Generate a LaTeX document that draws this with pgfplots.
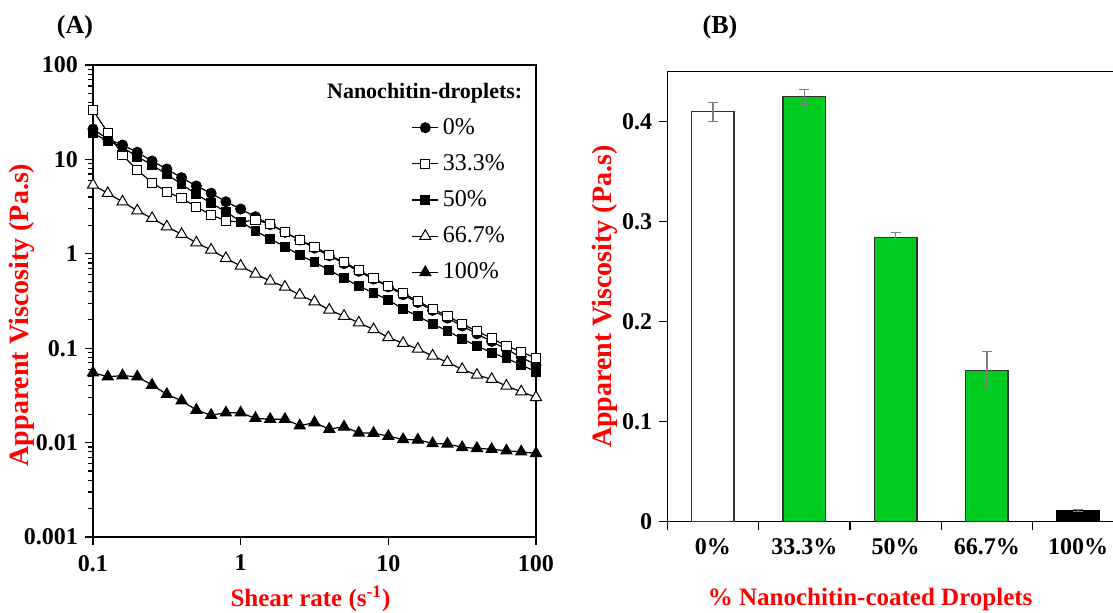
\documentclass[border=0pt]{standalone}
\usepackage{fontspec}
\setmainfont{Liberation Serif}
\usepackage{pgfplots}
\pgfplotsset{compat=1.18}
\usepackage{pgfplotstable}
\definecolor{bargreen}{RGB}{0,205,34}

\pgfplotstableread{
x      a0      a33     a50     a67     a100
0.1    21.0    33.3    18.9    5.36    0.0550
0.1259 16.4    19.2    15.7    4.38    0.0499
0.1585 14.2    11.1    13.4    3.56    0.0512
0.1995 11.9    7.72    10.7    2.86    0.0499
0.2512 9.62    5.67    8.72    2.38    0.0407
0.3162 7.91    4.55    6.95    1.94    0.0325
0.3981 6.40    3.87    5.45    1.61    0.0278
0.5012 5.23    3.15    4.27    1.31    0.0221
0.6310 4.38    2.58    3.43    1.10    0.0195
0.7943 3.56    2.24    2.79    0.896   0.0207
1      2.98    2.17    2.20    0.743   0.0207
1.259  2.47    2.28    1.75    0.611   0.0181
1.585  2.04    2.07    1.44    0.515   0.0177
1.995  1.69    1.69    1.19    0.445   0.0177
2.512  1.40    1.40    0.971   0.366   0.0151
3.162  1.15    1.19    0.813   0.311   0.0163
3.981  0.955   0.971   0.673   0.254   0.0139
5.012  0.789   0.813   0.550   0.219   0.0147
6.310  0.653   0.673   0.456   0.186   0.0127
7.943  0.540   0.550   0.385   0.158   0.0126
10     0.446   0.456   0.324   0.130   0.0117
12.59  0.369   0.382   0.260   0.113   0.0108
15.85  0.305   0.316   0.219   0.098   0.0107
19.95  0.252   0.260   0.180   0.083   0.0098
25.12  0.208   0.221   0.153   0.071   0.0097
31.62  0.172   0.180   0.125   0.0598  0.0089
39.81  0.142   0.152   0.106   0.052   0.0087
50.12  0.118   0.127   0.0896  0.0469  0.0085
63.10  0.0973  0.106   0.0782  0.0398  0.0082
79.43  0.0805  0.0918  0.0664  0.0346  0.0080
100    0.0664  0.0782  0.0564  0.0302  0.0077
}\visc

\begin{document}
\begin{tikzpicture}
\path[use as bounding box] (0pt,0pt) rectangle (556.5pt,-306pt);
\node[font=\bfseries\fontsize{13}{15}\selectfont] at (37.5pt,-13.5pt) {(A)};
\node[font=\bfseries\fontsize{13}{15}\selectfont] at (360pt,-13.5pt) {(B)};

\begin{axis}[
  at={(46.5pt,-268.5pt)}, anchor=south west, scale only axis,
  width=221.5pt, height=236pt,
  xmode=log, ymode=log, xmin=0.1, xmax=100, ymin=0.001, ymax=100,
  xtick={0.1,1,10,100}, xticklabels={0.1,1,10,100},
  ytick={0.001,0.01,0.1,1,10,100}, yticklabels={0.001,0.01,0.1,1,10,100},
  xminorticks=false,
  minor ytick={0.002,0.003,0.004,0.005,0.006,0.007,0.008,0.009,
               0.02,0.03,0.04,0.05,0.06,0.07,0.08,0.09,
               0.2,0.3,0.4,0.5,0.6,0.7,0.8,0.9,
               2,3,4,5,6,7,8,9,20,30,40,50,60,70,80,90},
  tick align=outside, xtick pos=lower, ytick pos=left,
  major tick length=4pt, minor tick length=2.5pt,
  every tick/.style={black, line width=0.6pt},
  axis line style={line width=0.6pt},
  ticklabel style={font=\bfseries\fontsize{12}{14}\selectfont},
  xticklabel style={yshift=-1.5pt},
  xlabel={Shear rate (s\textsuperscript{-1})},
  ylabel={Apparent Viscosity (Pa.s)},
  every axis x label/.style={at={(rel axis cs:0.5,0)}, anchor=center, xshift=-2pt, yshift=-31pt,
    font=\bfseries\fontsize{12.5}{14}\selectfont, text=red},
  every axis y label/.style={at={(rel axis cs:0,0.5)}, xshift=-35.5pt, yshift=-7pt, anchor=center, rotate=90,
    font=\bfseries\fontsize{14}{16}\selectfont, text=red},
  legend style={draw=none, fill=none, at={(0.705,0.905)}, anchor=north west,
    font=\fontsize{12}{14}\selectfont, row sep=4.6pt},
  legend cell align=left,
  legend image code/.code={\draw[mark repeat=2,mark phase=2,#1] plot coordinates {(0pt,0pt) (6.5pt,0pt) (13pt,0pt)};},
  every axis plot/.append style={black, line width=0.6pt},
]
\addplot[mark=*, mark size=2.5pt, mark options={fill=black, line width=0.5pt}] table[x=x,y=a0] {\visc};
\addlegendentry{0\%}
\addplot[mark=square*, mark size=2.3pt, mark options={fill=white, line width=0.5pt}] table[x=x,y=a33] {\visc};
\addlegendentry{33.3\%}
\addplot[mark=square*, mark size=2.2pt, mark options={fill=black, line width=0.5pt}] table[x=x,y=a50] {\visc};
\addlegendentry{50\%}
\addplot[mark=triangle*, mark size=3.2pt, mark options={fill=white, line width=0.5pt}] table[x=x,y=a67] {\visc};
\addlegendentry{66.7\%}
\addplot[mark=triangle*, mark size=3.2pt, mark options={fill=black, line width=0.5pt}] table[x=x,y=a100] {\visc};
\addlegendentry{100\%}
\node[anchor=east, font=\bfseries\fontsize{11}{13}\selectfont] at (rel axis cs:0.985,0.94) {Nanochitin-droplets:};
\end{axis}

\begin{axis}[
  at={(333.65pt,-260.85pt)}, anchor=south west, scale only axis,
  width=222.9pt, height=225pt,
  xmin=-0.5, xmax=4.382, ymin=0, ymax=0.45,
  axis x line*=bottom, axis y line*=left,
  axis line style={-, line width=0.6pt},
  xtick={-0.5,0.5,1.5,2.5,3.5}, xticklabels={,,,,},
  extra x ticks={0,1,2,3,4},
  extra x tick labels={0\%,33.3\%,50\%,66.7\%,100\%},
  extra x tick style={major tick length=0pt, xticklabel style={yshift=-5pt}},
  ytick={0,0.1,0.2,0.3,0.4}, yticklabels={0,0.1,0.2,0.3,0.4},
  tick align=outside, major tick length=4pt,
  every tick/.style={black, line width=0.6pt},
  ticklabel style={font=\bfseries\fontsize{12}{14}\selectfont},
  xlabel={\% Nanochitin-coated Droplets},
  ylabel={Apparent Viscosity (Pa.s)},
  every axis x label/.style={at={(rel axis cs:0.5,0)}, anchor=center, xshift=-10pt, yshift=-39pt,
    font=\bfseries\fontsize{12.5}{14}\selectfont, text=red},
  every axis y label/.style={at={(rel axis cs:0,0.5)}, xshift=-31pt, yshift=0pt, anchor=center, rotate=90,
    font=\bfseries\fontsize{14}{16}\selectfont, text=red},
  after end axis/.code={\draw[line width=0.6pt] (rel axis cs:0,1) -- (rel axis cs:1,1);},
  error bars/y dir=both, error bars/y explicit,
  error bars/error bar style={gray, line width=0.7pt},
  error bars/error mark options={rotate=90, gray, mark size=2.5pt, line width=0.7pt},
]
\addplot[ybar, bar width=0.465, bar shift=0pt, fill=white, draw=black!80, line width=0.7pt]
  coordinates {(0,0.410) +- (0,0.0095)};
\addplot[ybar, bar width=0.465, bar shift=0pt, fill=bargreen, draw=black!80, line width=0.7pt]
  coordinates {(1,0.425) +- (0,0.0075)};
\addplot[ybar, bar width=0.465, bar shift=0pt, fill=bargreen, draw=black!80, line width=0.7pt]
  coordinates {(2,0.284) +- (0,0.0055)};
\addplot[ybar, bar width=0.465, bar shift=0pt, fill=bargreen, draw=black!80, line width=0.7pt]
  coordinates {(3,0.151) +- (0,0.019)};
\addplot[ybar, bar width=0.465, bar shift=0pt, fill=black, draw=black, line width=0.7pt]
  coordinates {(4,0.011) +- (0,0.001)};
\end{axis}
\end{tikzpicture}
\end{document}
